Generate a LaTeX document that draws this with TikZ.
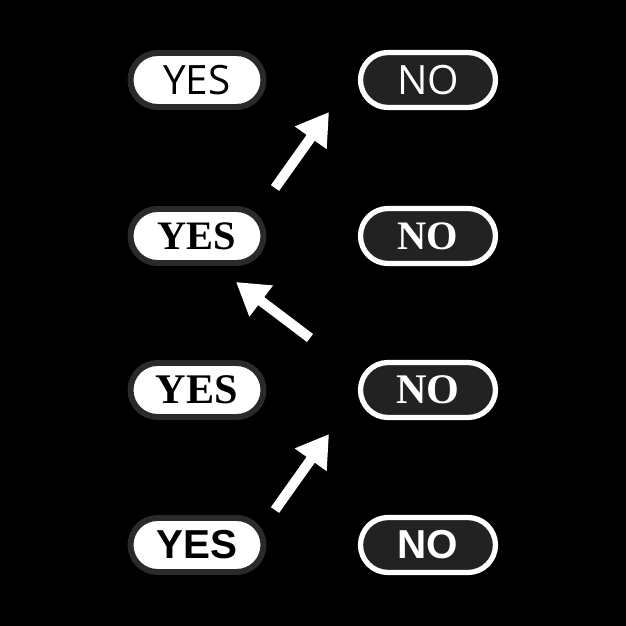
\documentclass[tikz,border=0pt]{standalone}
\usepackage{fontspec}
\usetikzlibrary{arrows.meta,shapes.misc}
\newfontfamily\lightsans{Open Sans}
\newfontfamily\boldsans{Liberation Sans}[BoldFont={Liberation Sans Bold}]
\newfontfamily\plainserif{Liberation Serif}
\definecolor{pillgray}{HTML}{2A2A2A}
\definecolor{nofill}{HTML}{222222}
\tikzset{
  yespill/.style={rounded rectangle,draw=pillgray,fill=white,line width=3.4pt,
    minimum width=2.66cm,minimum height=1.08cm,inner sep=0pt,text=black},
  nopill/.style={rounded rectangle,draw=white,fill=nofill,line width=3pt,
    minimum width=2.7cm,minimum height=1.1cm,inner sep=0pt,text=white},
  bigarrow/.style={white,line width=5.7pt,-{Triangle[length=18pt,width=21pt]}}
}
\begin{document}
\begin{tikzpicture}[x=0.02cm,y=-0.02cm]
\fill[black] (0,0) rectangle (626,626);
\node[yespill] (yes1) at (197,80) {\fontsize{23}{23}\selectfont\lightsans YES};
\node[nopill] (no1) at (428,80) {\fontsize{23}{23}\selectfont\lightsans NO};
\node[yespill] (yes2) at (197,236) {\fontsize{23}{23}\selectfont\plainserif\bfseries YES};
\node[nopill] (no2) at (428,236) {\fontsize{23}{23}\selectfont\plainserif\bfseries NO};
\node[yespill] (yes3) at (197,390) {\fontsize{24}{24}\selectfont\plainserif\bfseries YES};
\node[nopill] (no3) at (428,390) {\fontsize{24}{24}\selectfont\plainserif\bfseries NO};
\node[yespill] (yes4) at (197,545) {\fontsize{23}{23}\selectfont\boldsans\bfseries YES};
\node[nopill] (no4) at (428,545) {\fontsize{23}{23}\selectfont\boldsans\bfseries NO};
% arrows
\coordinate (a1s) at (275,188);
\coordinate (a1e) at (329,112);
\coordinate (a2s) at (310,338);
\coordinate (a2e) at (236,282);
\coordinate (a3s) at (275,510);
\coordinate (a3e) at (329,434);
\draw[bigarrow] (a1s)--(a1e);
\draw[bigarrow] (a2s)--(a2e);
\draw[bigarrow] (a3s)--(a3e);
\end{tikzpicture}
\end{document}
